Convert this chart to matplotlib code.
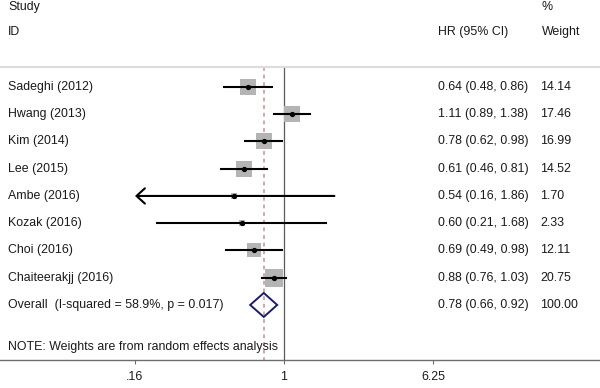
import numpy as np
import matplotlib
matplotlib.use('Agg')
import matplotlib.pyplot as plt
from matplotlib.patches import Polygon
from matplotlib.ticker import FixedLocator, NullLocator

plt.rc('font', **{'family': 'Liberation Sans'})

studies = ['Sadeghi (2012)', 'Hwang (2013)', 'Kim (2014)', 'Lee (2015)',
           'Ambe (2016)', 'Kozak (2016)', 'Choi (2016)', 'Chaiteerakjj (2016)']
hr = [0.64, 1.11, 0.78, 0.61, 0.54, 0.60, 0.69, 0.88]
lo = [0.48, 0.89, 0.62, 0.46, 0.16, 0.21, 0.49, 0.76]
hi = [0.86, 1.38, 0.98, 0.81, 1.86, 1.68, 0.98, 1.03]
weight = [14.14, 17.46, 16.99, 14.52, 1.70, 2.33, 12.11, 20.75]
arrow_left = [False, False, False, False, True, False, False, False]

overall_label = 'Overall  (I-squared = 58.9%, p = 0.017)'
overall = (0.78, 0.66, 0.92)
note = 'NOTE: Weights are from random effects analysis'
xticks = [0.16, 1, 6.25]
xticklabels = ['.16', '1', '6.25']

txt = '#1a1a1a'
fs = 8.9

fig = plt.figure(figsize=(6, 3.88), dpi=100)
ax = fig.add_axes([0, 28 / 388, 1, 360 / 388])
ax.set_xscale('log')
ax.set_xlim(0.0304, 48.8)
ax.set_ylim(10.02, -3.19)

rows = np.arange(len(studies))
top_line = -0.73

# reference lines
ax.plot([1, 1], [top_line, 10.02], color='#5a5a5a', lw=0.9, zorder=1)
ax.plot([overall[0], overall[0]], [top_line, 10.02], color='#c99090', lw=1.1,
        ls=(0, (2.5, 2.5)), zorder=1)
ax.axhline(top_line, color='#dcdcdc', lw=1.5)

# study estimates, box area ~ weight
for i, y in enumerate(rows):
    ax.scatter(hr[i], y, marker='s', s=8.3 * weight[i], color='#b4b4b4',
               lw=0, zorder=2)
    if arrow_left[i]:
        ax.annotate('', xy=(lo[i], y), xytext=(hi[i], y),
                    arrowprops=dict(arrowstyle='->,head_length=0.6,head_width=0.55',
                                    lw=1.5, color='black', shrinkA=0, shrinkB=0),
                    zorder=3)
    else:
        ax.plot([lo[i], hi[i]], [y, y], color='black', lw=1.5, zorder=3)
    ax.plot(hr[i], y, 'o', color='black', ms=2.8, zorder=4)

# overall diamond
yo = len(studies)
est, olo, ohi = overall
dia = Polygon([(olo, yo), (est, yo - 0.44), (ohi, yo), (est, yo + 0.44)],
              closed=True, fill=False, edgecolor='#1c1c6e', lw=1.4, zorder=3)
ax.add_patch(dia)

# text columns
tr = ax.get_yaxis_transform()
ax.text(8 / 600, -2.93, 'Study', transform=tr, ha='left', va='center', fontsize=fs, color=txt)
ax.text(8 / 600, -2, 'ID', transform=tr, ha='left', va='center', fontsize=fs, color=txt)
ax.text(438 / 600, -2, 'HR (95% CI)', transform=tr, ha='left', va='center', fontsize=fs, color=txt)
ax.text(542 / 600, -2.93, '%', transform=tr, ha='left', va='center', fontsize=fs, color=txt)
ax.text(542 / 600, -2, 'Weight', transform=tr, ha='left', va='center', fontsize=fs, color=txt)

for i, y in enumerate(rows):
    ax.text(8 / 600, y, studies[i], transform=tr, ha='left', va='center', fontsize=fs, color=txt)
    ax.text(438 / 600, y, '%.2f (%.2f, %.2f)' % (hr[i], lo[i], hi[i]), transform=tr,
            ha='left', va='center', fontsize=fs, color=txt)
    ax.text(540 / 600, y, '%.2f' % weight[i], transform=tr, ha='left', va='center',
            fontsize=fs, color=txt)

ax.text(8 / 600, yo, overall_label, transform=tr, ha='left', va='center', fontsize=fs, color=txt)
ax.text(438 / 600, yo, '%.2f (%.2f, %.2f)' % overall, transform=tr, ha='left',
        va='center', fontsize=fs, color=txt)
ax.text(540 / 600, yo, '%.2f' % sum(weight), transform=tr, ha='left', va='center',
        fontsize=fs, color=txt)
ax.text(8 / 600, 9.54, note, transform=tr, ha='left', va='center', fontsize=fs, color=txt)

# axis
for s in ['top', 'left', 'right']:
    ax.spines[s].set_visible(False)
ax.spines['bottom'].set_color('#6e6e6e')
ax.spines['bottom'].set_linewidth(1)
ax.xaxis.set_major_locator(FixedLocator(xticks))
ax.xaxis.set_minor_locator(NullLocator())
ax.set_xticklabels(xticklabels)
ax.tick_params(axis='x', direction='out', length=3, width=0.8, color='#6e6e6e',
               labelsize=fs, labelcolor=txt, pad=5)
ax.set_yticks([])

fig.savefig('out.png', dpi=100)
